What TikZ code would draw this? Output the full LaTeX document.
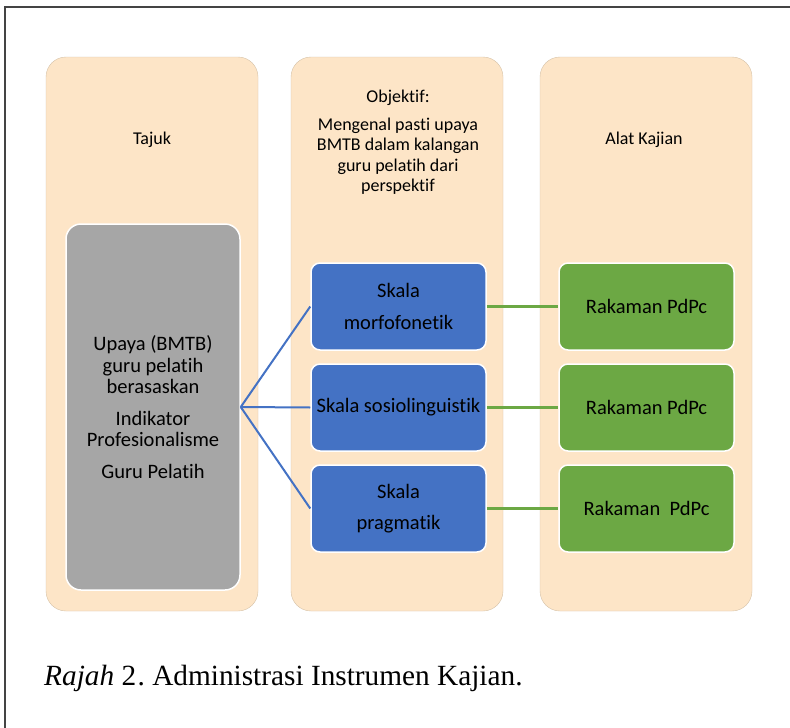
\documentclass[tikz,border=0pt]{standalone}
\usepackage{fontspec}
\setmainfont{Carlito}[Ligatures=NoCommon]
\newfontfamily\capfont{Liberation Serif}
\definecolor{peach}{HTML}{FDE5C7}
\definecolor{boxgray}{HTML}{A6A6A6}
\definecolor{boxblue}{HTML}{4472C4}
\definecolor{boxgreen}{HTML}{6CA844}
\definecolor{framegray}{HTML}{444444}
\tikzset{
  col/.style={fill=peach, draw=peach!85!black, line width=0.4pt, rounded corners=20pt, minimum width=212pt, minimum height=554pt, inner sep=0pt},
  graybox/.style={fill=boxgray, draw=white, line width=1.5pt, rounded corners=15pt, minimum width=174pt, minimum height=366pt, align=center, font=\fontsize{20.5}{21.5}\selectfont},
  bluebox/.style={fill=boxblue, draw=white, line width=1.5pt, rounded corners=9pt, minimum width=175pt, minimum height=87pt, align=center, inner sep=1pt, font=\fontsize{20.5}{21.5}\selectfont},
  greenbox/.style={fill=boxgreen, draw=white, line width=1.5pt, rounded corners=9pt, minimum width=175pt, minimum height=87pt, align=center, inner sep=1pt, font=\fontsize{20.5}{21.5}\selectfont},
  collabel/.style={align=center, font=\fontsize{18}{20.3}\selectfont},
  blueline/.style={draw=boxblue, line width=2pt},
  greenline/.style={draw=boxgreen, line width=2.5pt},
}
\begin{document}
\frenchspacing
\begin{tikzpicture}[x=1pt,y=-1pt]
\useasboundingbox (0,0) rectangle (790,728);
\fill[white] (0,0) rectangle (790,728);
\draw[framegray, line width=1.5pt] (5,729) -- (5,7) -- (791,7);

\node[col] (c1) at (152,334) {};
\node[col] (c2) at (397,334) {};
\node[col] (c3) at (646,334) {};

\node[collabel] (l1) at (152,140) {Tajuk};
\node[collabel] (l2) at (398,142) {Objektif:\\[8pt]Mengenal pasti upaya\\BMTB dalam kalangan\\guru pelatih dari\\perspektif};
\node[collabel] (l3) at (644,140) {Alat Kajian};

\node[graybox] (t) at (153,407) {Upaya (BMTB)\\guru pelatih\\berasaskan\\[10pt]Indikator\\Profesionalisme\\[10pt]Guru Pelatih};

\node[bluebox] (b1) at (398.5,306.5) {Skala\\[10pt]morfofonetik};
\node[bluebox] (b2) at (398.5,407.5) {Skala sosiolinguistik};
\node[bluebox] (b3) at (398.5,508.5) {Skala\\[10pt]pragmatik};

\node[greenbox] (g1) at (646.5,306.5) {Rakaman PdPc};
\node[greenbox] (g2) at (646.5,407.5) {Rakaman PdPc};
\node[greenbox] (g3) at (646.5,508.5) {Rakaman\ \ PdPc};

\draw[blueline] (t.east) -- (b1.west);
\draw[blueline] (t.east) -- (b2.west);
\draw[blueline] (t.east) -- (b3.west);
\draw[greenline] (b1.east) -- (g1.west);
\draw[greenline] (b2.east) -- (g2.west);
\draw[greenline] (b3.east) -- (g3.west);

\node[anchor=base west, font=\capfont\fontsize{29.3}{32}\selectfont, inner sep=0pt] (cap) at (44,685) {\textit{Rajah} 2\kern1.5pt. Administrasi Instrumen Kajian.};
\end{tikzpicture}
\end{document}
